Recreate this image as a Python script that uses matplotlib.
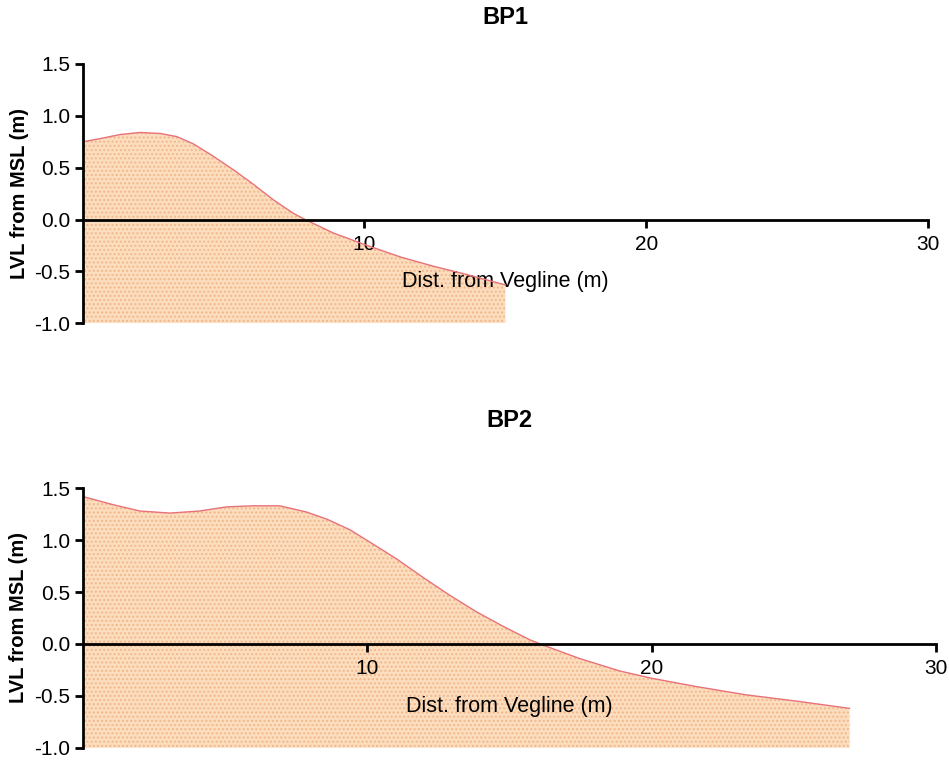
import matplotlib
matplotlib.use('Agg')
import matplotlib.pyplot as plt
import numpy as np

plt.rcParams['font.family'] = ['Liberation Sans', 'DejaVu Sans']
plt.rcParams['hatch.linewidth'] = 1.0

# BP1 profile (distance in m, level in m)
bp1_x = [0, 0.61, 1.33, 2.04, 2.75, 3.34, 3.93, 4.64, 5.35, 6.06, 6.77, 7.48, 7.9,
         8.9, 10.0, 11.27, 12.45, 13.64, 15.0]
bp1_y = [0.75, 0.78, 0.82, 0.84, 0.83, 0.80, 0.73, 0.61, 0.48, 0.34, 0.19, 0.06, 0.0,
         -0.13, -0.24, -0.36, -0.45, -0.53, -0.63]

# BP2 profile
bp2_x = [0, 1.08, 2.01, 3.07, 4.12, 5.06, 6.0, 6.93, 7.87, 8.6, 9.39, 10.1, 11.03, 11.97,
         12.9, 13.84, 14.78, 15.72, 16.18, 17.47, 18.88, 20.0, 21.57, 23.33, 25.09, 26.96]
bp2_y = [1.42, 1.34, 1.28, 1.26, 1.28, 1.32, 1.33, 1.33, 1.27, 1.20, 1.10, 0.98, 0.82, 0.64,
         0.47, 0.31, 0.17, 0.04, -0.01, -0.14, -0.26, -0.33, -0.41, -0.49, -0.55, -0.62]

titles = ['BP1', 'BP2']
x_ticks = [10, 20, 30]
y_ticks = [-1.0, -0.5, 0.0, 0.5, 1.0, 1.5]

fill_col = '#FCDDBE'
dot_col = '#F1B88C'
line_col = '#E8727A'

fig = plt.figure(figsize=(9.49, 7.6), dpi=100)
ax1 = fig.add_axes([0.0871, 0.5746, 0.8907, 0.3412])
ax2 = fig.add_axes([0.0871, 0.0160, 0.8992, 0.3417])

for ax, xs, ys, title, ty in [(ax1, bp1_x, bp1_y, titles[0], 1.181), (ax2, bp2_x, bp2_y, titles[1], 1.26)]:
    ax.fill_between(xs, ys, -1.0, facecolor=fill_col, edgecolor='none', linewidth=0, zorder=1)
    ax.fill_between(xs, ys, -1.0, facecolor='none', edgecolor=dot_col, hatch='....', linewidth=0, zorder=1.1)
    ax.plot(xs, ys, color=line_col, lw=1.0, zorder=2, solid_joinstyle='round')

    ax.set_xlim(0, 30)
    ax.set_ylim(-1.0, 1.5)
    ax.spines['top'].set_visible(False)
    ax.spines['right'].set_visible(False)
    ax.spines['bottom'].set_position(('data', 0))
    ax.spines['bottom'].set_linewidth(2)
    ax.spines['left'].set_linewidth(2)

    ax.set_xticks(x_ticks)
    ax.set_yticks(y_ticks)
    ax.set_yticklabels(['%.1f' % v for v in y_ticks])
    ax.tick_params(axis='both', direction='out', length=6, width=2, labelsize=15, pad=3)
    ax.tick_params(axis='x', pad=5)

    ax.set_xlabel('Dist. from Vegline (m)', fontsize=15.5)
    ax.xaxis.set_label_coords(0.5, 0.20)
    ax.set_ylabel('LVL from MSL (m)', fontsize=14.5, fontweight='bold')
    ax.yaxis.set_label_coords(-0.064, 0.5)

    ax.text(0.5, ty, title, transform=ax.transAxes, ha='center', va='center',
            fontsize=17, fontweight='bold')

fig.savefig('out.png', dpi=100)
